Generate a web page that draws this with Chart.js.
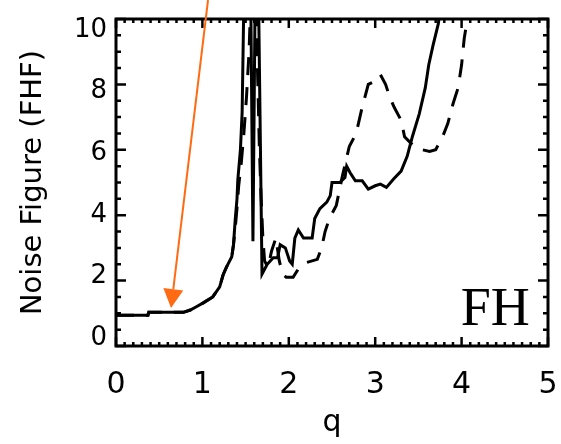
<!DOCTYPE html>
<html><head><meta charset="utf-8">
<script src="https://cdn.jsdelivr.net/npm/chart.js@4.4.1/dist/chart.umd.min.js"></script>
<style>html,body{margin:0;padding:0;background:#fff;} canvas{display:block;}</style>
</head><body>
<canvas id="c" width="561" height="444"></canvas>
<script>
// ---- data ----
const solidQ  = [0, 0.37, 0.38, 0.78, 0.86, 0.93, 1.01, 1.12, 1.20, 1.24, 1.28, 1.34, 1.36, 1.38, 1.40, 1.41, 1.44, 1.46, 1.48, 1.53, 1.56, 1.585, 1.61, 1.65, 1.69, 1.75, 1.82, 1.87, 1.90, 1.96, 2.01, 2.04, 2.07, 2.11, 2.17, 2.27, 2.30, 2.36, 2.44, 2.48, 2.50, 2.59, 2.65, 2.67, 2.71, 2.77, 2.85, 2.92, 3.00, 3.06, 3.13, 3.21, 3.30, 3.37, 3.43, 3.51, 3.58, 3.62, 3.67, 3.73, 3.77];
const solidNF = [0.94, 0.94, 1.03, 1.03, 1.10, 1.20, 1.32, 1.50, 1.81, 2.18, 2.42, 2.73, 3.10, 3.87, 4.48, 5.09, 6.0, 7.15, 10.6, 10.6, 10.6, 3.2, 10.6, 10.6, 2.2, 2.5, 2.7, 2.7, 3.1, 3.0, 2.6, 2.5, 3.3, 3.55, 3.3, 3.3, 3.9, 4.2, 4.4, 4.6, 5.0, 5.0, 5.15, 5.5, 5.3, 5.05, 5.05, 4.8, 4.9, 4.95, 4.85, 5.1, 5.35, 5.8, 6.4, 7.1, 7.9, 8.6, 9.2, 9.85, 10.6];
const dashedQ  = [0, 0.37, 0.38, 0.78, 0.86, 0.93, 1.01, 1.12, 1.20, 1.24, 1.28, 1.34, 1.36, 1.38, 1.40, 1.42, 1.45, 1.48, 1.51, 1.54, 1.56, 1.60, 1.62, 1.64, 1.66, 1.68, 1.70, 1.72, 1.76, 1.80, 1.85, 1.89, 1.93, 1.97, 2.05, 2.12, 2.20, 2.33, 2.38, 2.42, 2.47, 2.55, 2.62, 2.70, 2.78, 2.84, 2.88, 2.92, 3.00, 3.06, 3.12, 3.17, 3.22, 3.30, 3.34, 3.45, 3.55, 3.63, 3.70, 3.78, 3.84, 3.90, 3.96, 4.00, 4.03, 4.06, 4.09];
const dashedNF = [0.94, 0.94, 1.03, 1.03, 1.10, 1.20, 1.32, 1.50, 1.81, 2.18, 2.42, 2.73, 3.10, 3.6, 4.2, 4.9, 5.6, 6.5, 7.6, 9.0, 10.6, 10.6, 10.6, 8.2, 6.0, 4.5, 3.3, 2.6, 2.4, 2.9, 3.3, 2.6, 2.2, 2.1, 2.1, 2.4, 2.55, 2.65, 3.0, 3.5, 3.9, 4.3, 5.2, 6.1, 6.5, 7.2, 7.6, 8.0, 8.1, 8.3, 8.0, 7.6, 7.3, 6.9, 6.4, 6.1, 6.0, 5.95, 6.0, 6.4, 6.8, 7.4, 7.9, 8.6, 9.4, 9.9, 10.6];
const xTickValues = [0, 1, 2, 3, 4, 5];
const yTickValues = [0, 2, 4, 6, 8, 10];
const xTitle = 'q';
const yTitle = 'Noise Figure (FHF)';
const panelLabel = 'FH';
const panelLabelAt = [4.79, 0.64];   // data coords (right edge, baseline)
const arrowTail = [1.065, 10.58];    // data coords
const arrowTip  = [0.637, 1.16];

const toPoints = (xs, ys) => xs.map((q, i) => ({x: q, y: ys[i]}));

const framePlugin = {
  id: 'frame',
  afterDatasetsDraw(chart) {
    const {ctx, chartArea: a} = chart;
    const x = chart.scales.x, y = chart.scales.y;
    ctx.save();
    ctx.strokeStyle = '#000';
    ctx.lineWidth = 2.5;
    ctx.beginPath();
    for (let i = 0; i <= 50; i++) {
      const px = x.getPixelForValue(i / 10);
      const len = i % 10 === 0 ? 9 : 4;
      ctx.moveTo(px, a.bottom); ctx.lineTo(px, a.bottom - len);
      ctx.moveTo(px, a.top); ctx.lineTo(px, a.top + len);
    }
    for (let i = 0; i <= 20; i++) {
      const py = y.getPixelForValue(i * 0.5);
      const len = i % 4 === 0 ? 10 : 5;
      ctx.moveTo(a.left, py); ctx.lineTo(a.left + len, py);
      ctx.moveTo(a.right, py); ctx.lineTo(a.right - len, py);
    }
    ctx.stroke();
    ctx.lineWidth = 3;
    ctx.strokeRect(a.left, a.top, a.right - a.left, a.bottom - a.top);
    ctx.fillStyle = '#000';
    ctx.font = '54px "Liberation Serif", "DejaVu Serif", serif';
    ctx.textAlign = 'right';
    ctx.textBaseline = 'alphabetic';
    ctx.fillText(panelLabel, x.getPixelForValue(panelLabelAt[0]), y.getPixelForValue(panelLabelAt[1]));
    ctx.restore();
  },
  afterDraw(chart) {
    const {ctx} = chart;
    const x = chart.scales.x, y = chart.scales.y;
    const x0 = x.getPixelForValue(arrowTail[0]), y0 = y.getPixelForValue(arrowTail[1]);
    const x1 = x.getPixelForValue(arrowTip[0]), y1 = y.getPixelForValue(arrowTip[1]);
    const ang = Math.atan2(y1 - y0, x1 - x0);
    const head = 19, half = 10;
    const bx = x1 - head * Math.cos(ang), by = y1 - head * Math.sin(ang);
    ctx.save();
    ctx.strokeStyle = '#ff6a13';
    ctx.fillStyle = '#ff6a13';
    ctx.lineWidth = 2;
    ctx.beginPath(); ctx.moveTo(x0, y0); ctx.lineTo(bx, by); ctx.stroke();
    ctx.beginPath();
    ctx.moveTo(x1, y1);
    ctx.lineTo(bx - half * Math.sin(ang), by + half * Math.cos(ang));
    ctx.lineTo(bx + half * Math.sin(ang), by - half * Math.cos(ang));
    ctx.closePath(); ctx.fill();
    ctx.restore();
  }
};

new Chart(document.getElementById('c'), {
  type: 'line',
  data: {
    datasets: [
      { label: 'solid', data: toPoints(solidQ, solidNF), borderColor: '#000', borderWidth: 3,
        pointRadius: 0, tension: 0, fill: false },
      { label: 'dashed', data: toPoints(dashedQ, dashedNF), borderColor: '#000', borderWidth: 3,
        borderDash: [18, 12], pointRadius: 0, tension: 0, fill: false }
    ]
  },
  options: {
    responsive: false,
    animation: false,
    devicePixelRatio: 1,
    layout: { padding: { top: 19, right: 13, left: 0, bottom: 0 } },
    plugins: { legend: { display: false }, tooltip: { enabled: false } },
    scales: {
      x: {
        type: 'linear', position: 'bottom', min: 0, max: 5,
        afterFit: s => { s.height = 98; s.paddingLeft = 0; s.paddingRight = 0; },
        afterBuildTicks: s => { s.ticks = xTickValues.map(v => ({value: v})); },
        grid: { display: false, drawTicks: false },
        border: { display: false },
        ticks: { color: '#000', font: { family: 'DejaVu Sans', size: 30 }, padding: 21, maxRotation: 0, autoSkip: false },
        title: { display: true, text: xTitle, color: '#000', font: { family: 'DejaVu Sans', size: 30 }, padding: { top: 0, bottom: 3 } }
      },
      y: { type: 'linear', min: 0, max: 10, display: false },
      yl: {
        type: 'linear', position: 'left', min: -0.26, max: 10.36,
        afterFit: s => { s.width = 116; s.paddingTop = 0; s.paddingBottom = 0; },
        afterBuildTicks: s => { s.ticks = yTickValues.map(v => ({value: v})); },
        grid: { display: false, drawTicks: false },
        border: { display: false },
        ticks: { color: '#000', font: { family: 'DejaVu Sans', size: 26 }, padding: 9, autoSkip: false },
        title: { display: true, text: yTitle, color: '#000', font: { family: 'DejaVu Sans', size: 29 }, padding: { top: 16, bottom: 0 } }
      }
    }
  },
  plugins: [framePlugin]
});
</script>
</body></html>
